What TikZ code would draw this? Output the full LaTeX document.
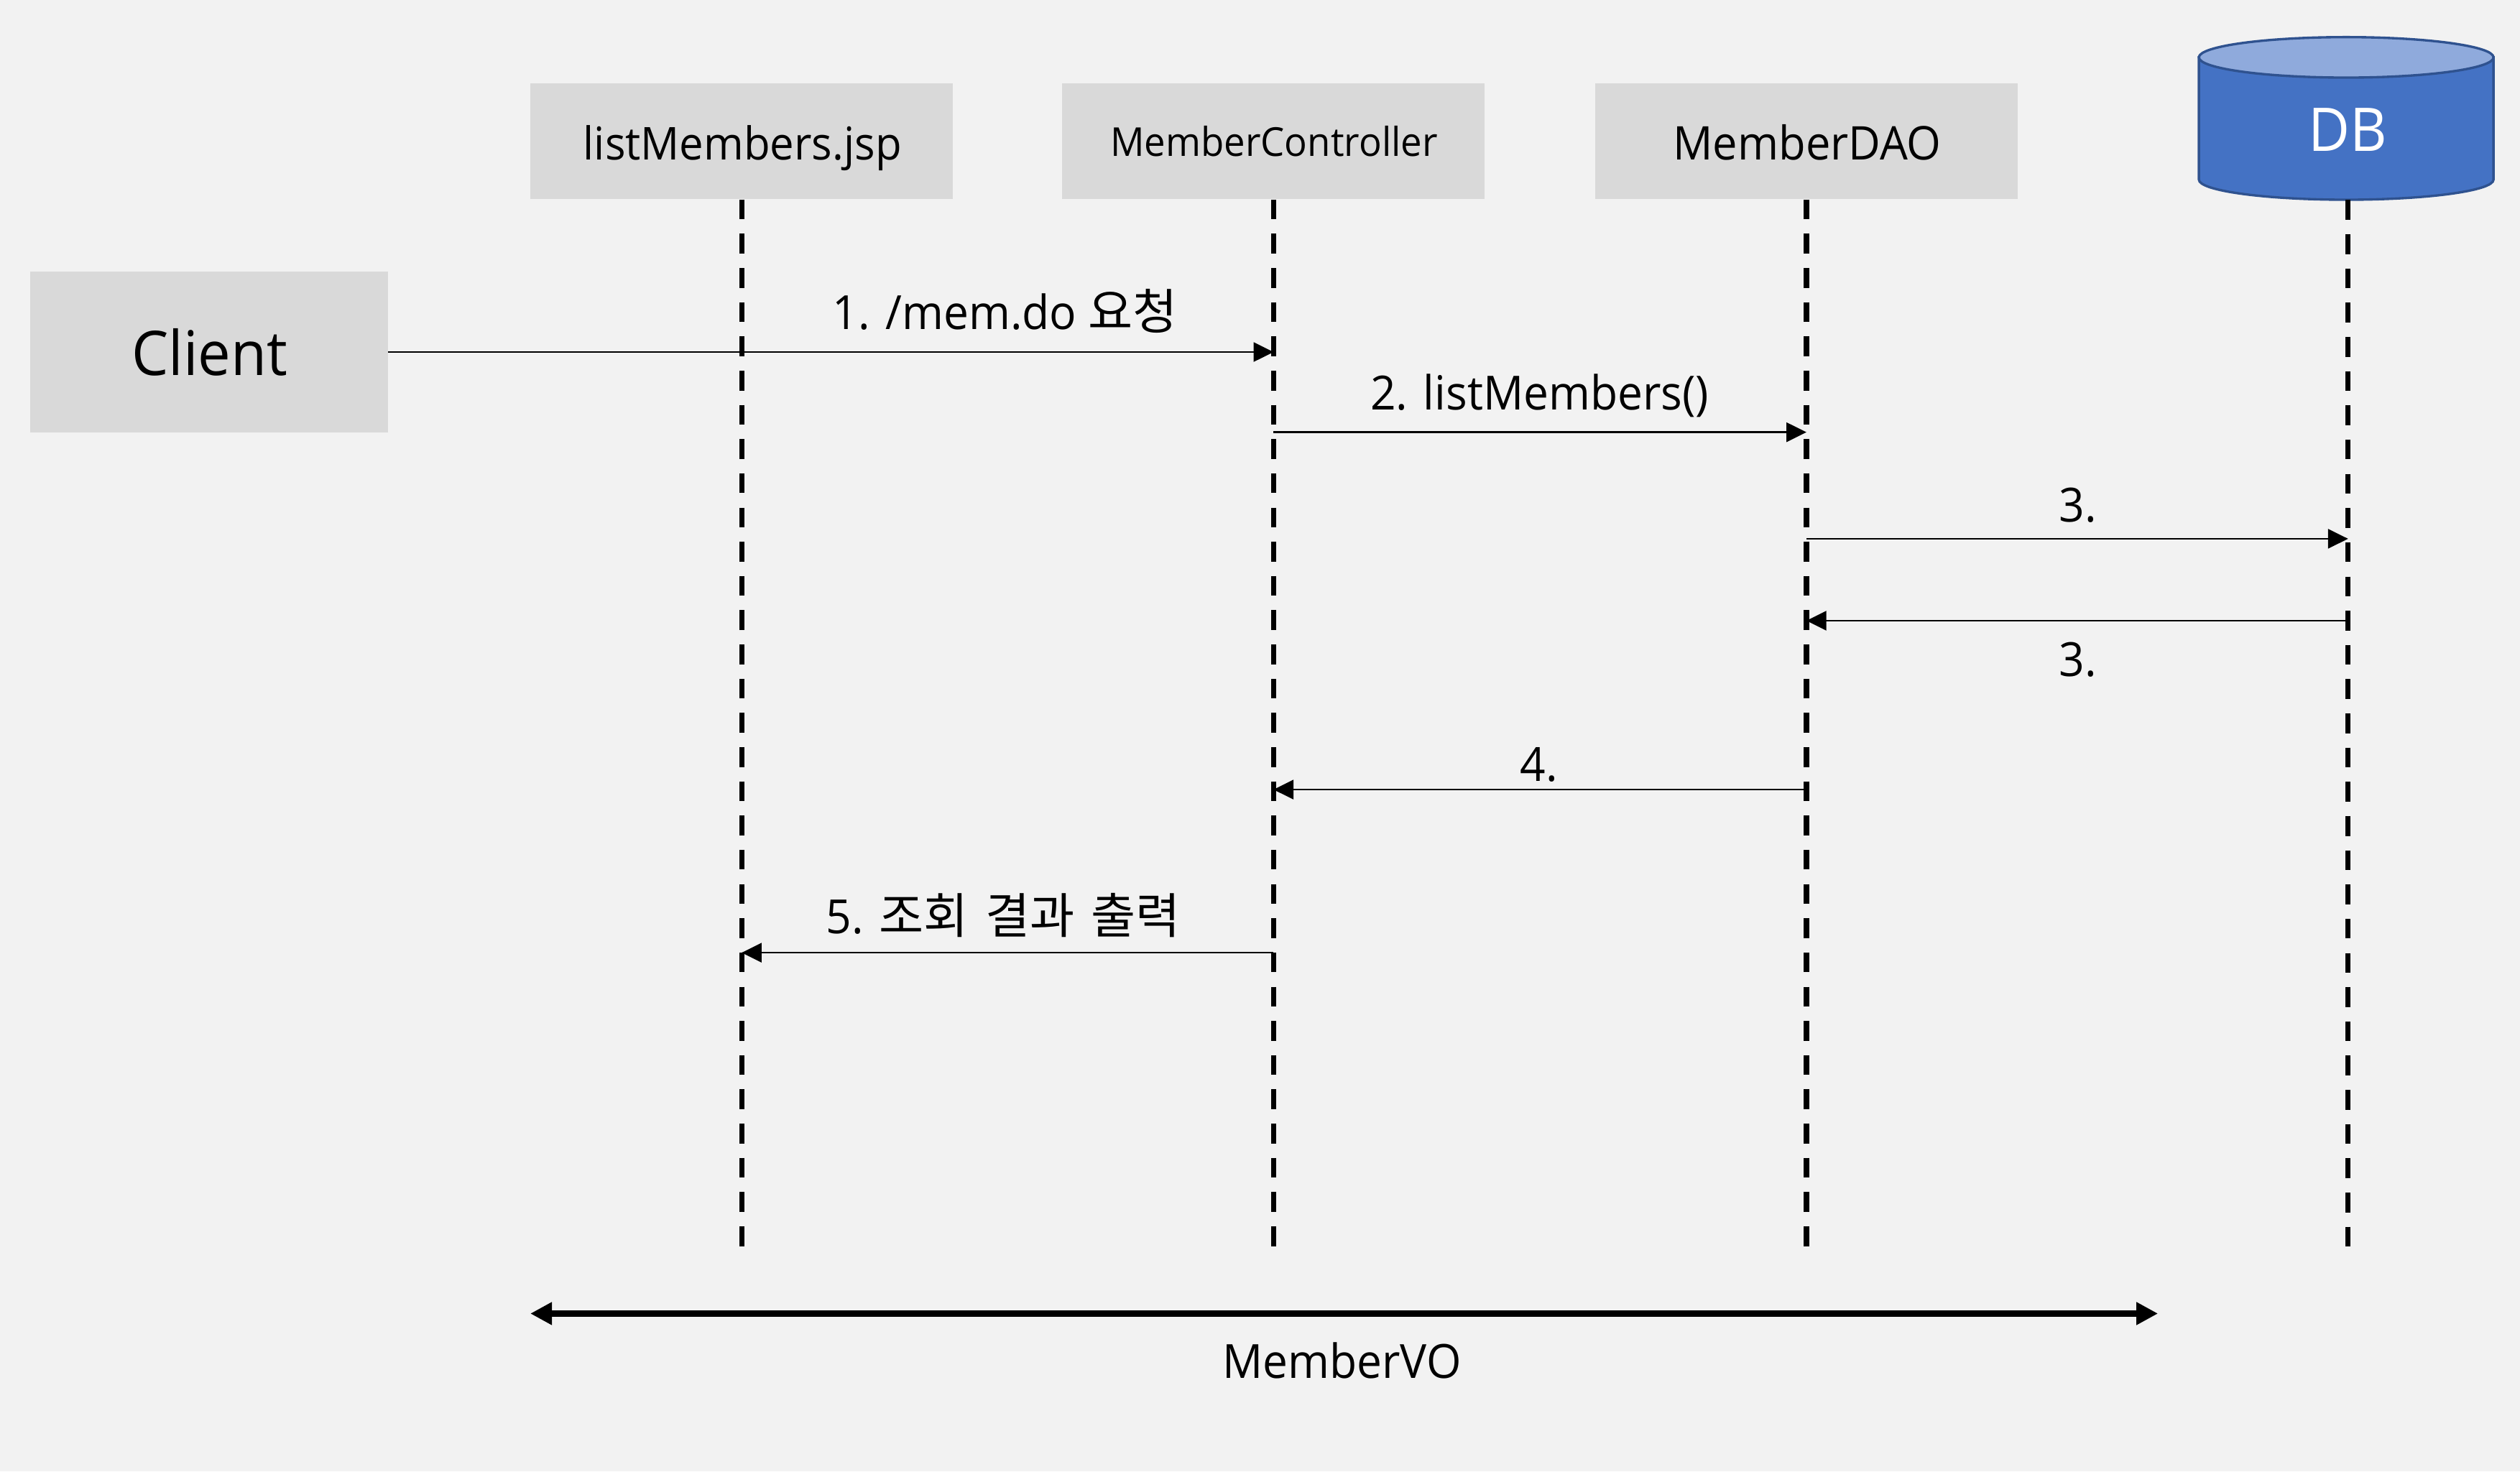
\documentclass[tikz,border=0pt]{standalone}
\usepackage{fontspec}
\setmainfont{Open Sans}[FakeStretch=0.95]
\newfontfamily\kr{Noto Sans CJK KR}[Scale=1.03]
\usetikzlibrary{arrows.meta}
\definecolor{bgc}{HTML}{F2F2F2}
\definecolor{boxc}{HTML}{D9D9D9}
\definecolor{dbfill}{HTML}{4472C4}
\definecolor{dbtop}{HTML}{8FAADC}
\definecolor{dbline}{HTML}{2F528F}
\begin{document}
\begin{tikzpicture}[x=1pt,y=-1pt,
  lane/.style={fill=boxc, draw=none, minimum width=263pt, minimum height=72pt, inner sep=0pt},
  lifeline/.style={line width=3.2pt, dash pattern=on 12.3pt off 9pt},
  msg/.style={line width=1.2pt, -{Triangle[length=12.4pt,width=12pt]}},
  lbl/.style={anchor=base, inner sep=0pt, font=\fontsize{29.3}{35}\selectfont},
  vo/.style={line width=4.3pt, {Triangle[length=13.4pt,width=13.4pt]}-{Triangle[length=13.4pt,width=13.4pt]}},
]
\fill[bgc] (0,0) rectangle (1568,915.7);
\useasboundingbox (0,0) rectangle (1568,915.7);

% participant boxes
\node[lane] (jsp) at (461.5,88) {};
\node[lane] (ctrl) at (792.4,88) {};
\node[lane] (dao) at (1124,88) {};
\node[fill=boxc, minimum width=222.6pt, minimum height=100.2pt, inner sep=0pt] (client) at (130.1,219.1) {};

% DB cylinder
\fill[dbfill, draw=dbline, line width=1.5pt] (1368.2,35.7) -- (1368.2,111.8) arc[start angle=180, end angle=0, x radius=91.65, y radius=12.5] -- (1551.5,35.7) -- cycle;
\filldraw[fill=dbtop, draw=dbline, line width=1.5pt] (1459.85,35.7) ellipse [x radius=91.65, y radius=12.6];
\node[minimum width=183pt, minimum height=101pt, inner sep=0pt] (db) at (1461,73.8) {};

% participant texts
\node[lbl, font=\fontsize{28.2}{33}\selectfont] (jspt) at (462,99.6) {listMembers.jsp};
\node[lbl, font=\fontsize{24.8}{30}\selectfont] (ctrlt) at (792.7,97.2) {MemberController};
\node[lbl, font=\fontsize{28.9}{34}\selectfont] (daot) at (1124.5,99.6) {MemberDAO};
\node[lbl, font=\fontsize{38.3}{45}\selectfont] (clientt) at (130.4,233.7) {Client};
\node[lbl, text=white, font=\fontsize{37.5}{44}\selectfont] (dbt) at (1460.7,93.9) {DB};

% lifelines
\coordinate (bottom) at (0,777);
\draw[lifeline] (jsp.south) -- (jsp.south |- bottom);
\draw[lifeline] (ctrl.south) -- (ctrl.south |- bottom);
\draw[lifeline] (dao.south) -- (dao.south |- bottom);
\draw[lifeline] (db.south) -- (db.south |- bottom);

% message rows
\coordinate (y2) at (0,269);
\coordinate (y3) at (0,335.3);
\coordinate (y3b) at (0,386.3);
\coordinate (y4) at (0,491.4);
\coordinate (y5) at (0,592.9);

\draw[msg] (client.east) -- (client.east -| ctrl.south);
\draw[msg] (ctrl.south |- y2) -- (dao.south |- y2);
\draw[msg] (dao.south |- y3) -- (db.south |- y3);
\draw[msg] (db.south |- y3b) -- (dao.south |- y3b);
\draw[msg] (dao.south |- y4) -- (ctrl.south |- y4);
\draw[msg] (ctrl.south |- y5) -- (jsp.south |- y5);

% message labels
\node[lbl] (l1) at (625.4,204.8) {1. /mem.do {\kr 요청}};
\node[lbl] (l2) at (958,255) {2. listMembers()};
\node[lbl] (l3a) at (1293,324.6) {3.};
\node[lbl] (l3b) at (1293,421) {3.};
\node[lbl] (l4) at (957.5,486) {4.};
\node[lbl] (l5) at (624.3,581) {5. {\kr 조회\hspace{0.12em} 결과\hspace{0.12em} 출력}};

% MemberVO
\coordinate (voL) at (330,817.5);
\coordinate (voR) at (1342.7,817.5);
\draw[vo] (voL) -- (voR);
\node[lbl] (vot) at (835,857.6) {MemberVO};
\end{tikzpicture}
\end{document}
